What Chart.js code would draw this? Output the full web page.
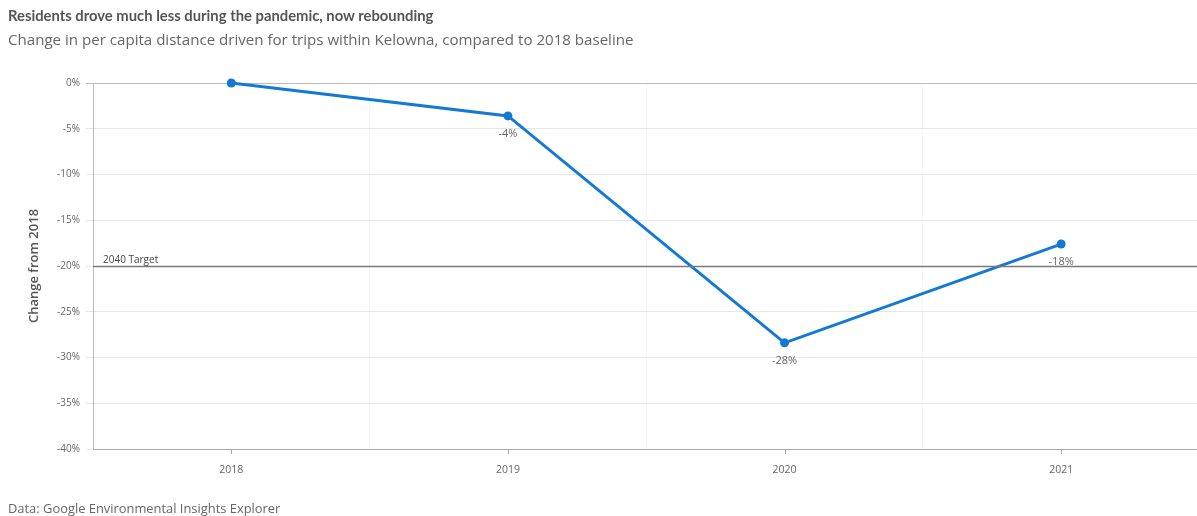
<!DOCTYPE html>
<html>
<head>
<meta charset="utf-8">
<script src="https://cdn.jsdelivr.net/npm/chart.js@4"></script>
<style>
  body { margin: 0; background: #fff; font-family: Lato, "Open Sans", sans-serif; }
  #wrap { position: relative; width: 1197px; height: 516px; overflow: hidden; }
  #chart { position: absolute; left: 0; top: 0; }
  .title { position: absolute; left: 8px; top: 6px; font-size: 14.8px; font-weight: 700; color: #555; }
  .subtitle { position: absolute; left: 8px; top: 29px; font-size: 15.1px; color: #666; font-family: "Open Sans", sans-serif; }
  .footer { position: absolute; left: 8px; top: 499px; font-size: 12.9px; color: #666; font-family: "Open Sans", sans-serif; }
</style>
</head>
<body>
<div id="wrap">
  <canvas id="chart" width="1204" height="516"></canvas>
  <div class="title">Residents drove much less during the pandemic, now rebounding</div>
  <div class="subtitle">Change in per capita distance driven for trips within Kelowna, compared to 2018 baseline</div>
  <div class="footer">Data: Google Environmental Insights Explorer</div>
</div>
<script>
// chart data
const years = ['2018', '2019', '2020', '2021'];
const changeFrom2018 = [0, -3.6, -28.4, -17.6];
const targetValue = -20;
const targetLabel = '2040 Target';
const yTicks = [0, -5, -10, -15, -20, -25, -30, -35, -40];

const lineColor = '#1479d4';
const fontFamily = '"Open Sans", Lato, sans-serif';

// horizontal target line + point labels + x tick marks
const extras = {
    id: 'extras',
    afterDatasetsDraw(chart) {
        const ctx = chart.ctx;
        const area = chart.chartArea;
        const x = chart.scales.x;
        const y = chart.scales.y;

        // target line
        const ty = Math.round(y.getPixelForValue(targetValue)) + 0.5;
        ctx.save();
        ctx.strokeStyle = '#7a7a7a';
        ctx.lineWidth = 1.3;
        ctx.beginPath();
        ctx.moveTo(area.left, ty);
        ctx.lineTo(area.right, ty);
        ctx.stroke();
        ctx.fillStyle = '#444';
        ctx.font = '10px ' + fontFamily;
        ctx.textBaseline = 'bottom';
        ctx.textAlign = 'left';
        ctx.fillText(targetLabel, area.left + 10, ty - 1);

        // data labels under points
        const meta = chart.getDatasetMeta(0);
        ctx.fillStyle = '#666';
        ctx.textAlign = 'center';
        ctx.textBaseline = 'middle';
        ctx.font = '11px ' + fontFamily;
        meta.data.forEach((pt, i) => {
            const v = changeFrom2018[i];
            if (v === 0) return;
            ctx.fillText(Math.round(v) + '%', pt.x, pt.y + 18);
        });

        // small tick marks at category centres
        ctx.strokeStyle = '#aaa';
        ctx.lineWidth = 1;
        years.forEach((_, i) => {
            const px = Math.round(x.getPixelForValue(i)) + 0.5;
            ctx.beginPath();
            ctx.moveTo(px, area.bottom);
            ctx.lineTo(px, area.bottom + 5);
            ctx.stroke();
        });
        ctx.restore();
    }
};

new Chart(document.getElementById('chart').getContext('2d'), {
    type: 'line',
    data: {
        labels: years,
        datasets: [{
            label: 'Change from 2018',
            data: changeFrom2018,
            borderColor: lineColor,
            backgroundColor: lineColor,
            borderWidth: 3,
            pointRadius: 4.5,
            pointHoverRadius: 4.5,
            pointBackgroundColor: lineColor,
            pointBorderWidth: 0,
            tension: 0,
            fill: false,
            clip: false
        }]
    },
    options: {
        responsive: false,
        devicePixelRatio: 1,
        animation: false,
        layout: { padding: { top: 83, right: 0, left: 0, bottom: 0 } },
        plugins: {
            legend: { display: false },
            tooltip: { enabled: false }
        },
        scales: {
            x: {
                offset: true,
                grid: {
                    offset: true,
                    color: '#f6f6f6',
                    drawTicks: false
                },
                border: { color: '#aaa', width: 1 },
                ticks: {
                    color: '#666',
                    padding: 15,
                    font: { size: 10.5, family: fontFamily }
                },
                afterFit(scale) { scale.height = 67; }
            },
            y: {
                min: -40,
                max: 0,
                afterBuildTicks(scale) { scale.ticks = yTicks.map(v => ({ value: v })); },
                grid: {
                    color: ctx => ctx.tick && ctx.tick.value === 0 ? '#bbb' : '#e6e6e6',
                    tickColor: ctx => ctx.tick && ctx.tick.value === 0 ? '#bbb' : '#e6e6e6',
                    tickLength: 7
                },
                border: { color: '#bbb', width: 1 },
                ticks: {
                    color: '#666',
                    padding: 6,
                    font: { size: 10, family: fontFamily },
                    callback: v => v + '%'
                },
                title: {
                    display: true,
                    text: 'Change from 2018',
                    color: '#555',
                    padding: { top: 26, bottom: 0 },
                    font: { size: 13, weight: '600', family: fontFamily }
                },
                afterFit(scale) { scale.width = 93; }
            }
        }
    },
    plugins: [extras]
});
</script>
</body>
</html>
